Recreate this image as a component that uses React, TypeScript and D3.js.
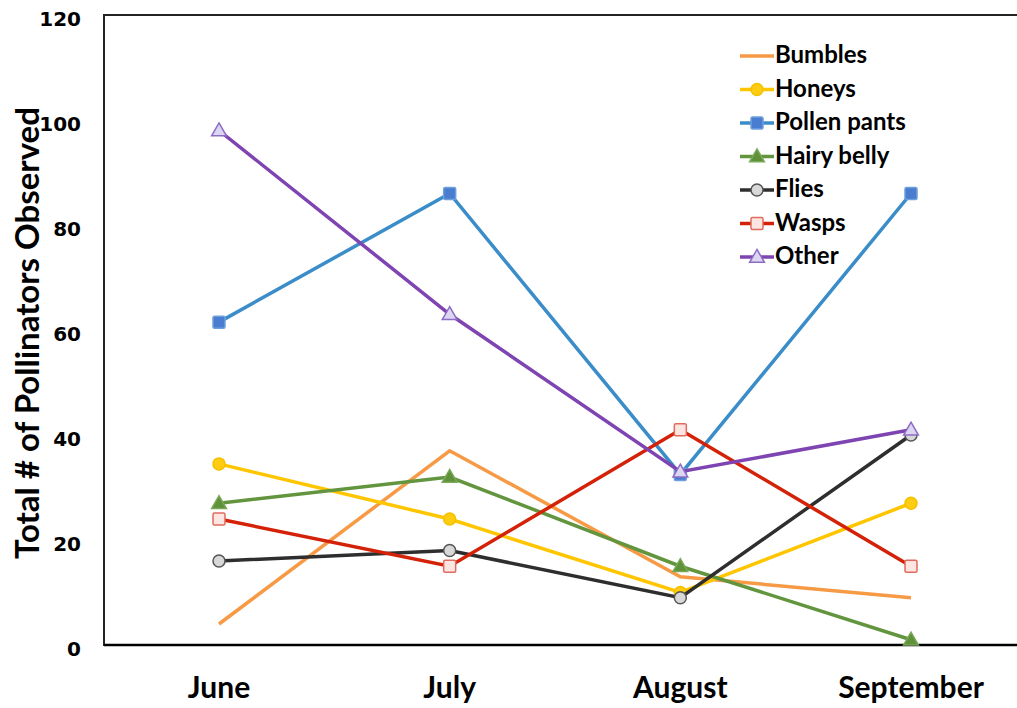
import React from "react";
import * as d3 from "d3";

const months = ["June", "July", "August", "September"];
const bumbles = [4, 37, 13, 9];
const honeys = [34.5, 24, 10, 27];
const pollenPants = [61.5, 86, 32.5, 86];
const hairyBelly = [27, 32, 15, 1];
const flies = [16, 18, 9, 40];
const wasps = [24, 15, 41, 15];
const other = [98, 63, 33, 41];
const yTicks = [0, 20, 40, 60, 80, 100, 120];

type Marker = "none" | "circle" | "square" | "triangle";
interface Series {
  name: string;
  values: number[];
  line: string;
  marker: Marker;
  fill: string;
  stroke: string;
}

const series: Series[] = [
  { name: "Bumbles", values: bumbles, line: "#F79A46", marker: "none", fill: "none", stroke: "none" },
  { name: "Honeys", values: honeys, line: "#FFC600", marker: "circle", fill: "#FFCC11", stroke: "#F2C200" },
  { name: "Pollen pants", values: pollenPants, line: "#3A8DC8", marker: "square", fill: "#4A7CD0", stroke: "#6EA0DC" },
  { name: "Hairy belly", values: hairyBelly, line: "#62953E", marker: "triangle", fill: "#5E9138", stroke: "#7AA85A" },
  { name: "Flies", values: flies, line: "#2E2E2E", marker: "circle", fill: "#D8D8D8", stroke: "#555555" },
  { name: "Wasps", values: wasps, line: "#D42208", marker: "square", fill: "#FDE6E2", stroke: "#E06A5E" },
  { name: "Other", values: other, line: "#7E44B2", marker: "triangle", fill: "#DCD6F2", stroke: "#8C6CC4" },
];

const W = 1017;
const H = 708;
const plotLeft = 104;
const plotTop = 15;
const plotBottom = 645;

const x = d3.scalePoint<string>().domain(months).range([219, 911]);
const y = d3.scaleLinear().domain([0, 120]).range([plotBottom, plotTop]);

function MarkerShape({ kind, cx, cy, fill, stroke }: { kind: Marker; cx: number; cy: number; fill: string; stroke: string }) {
  if (kind === "circle") {
    return <circle cx={cx} cy={cy} r={6} fill={fill} stroke={stroke} strokeWidth={1.5} />;
  }
  if (kind === "square") {
    return <rect x={cx - 6} y={cy - 6} width={12} height={12} rx={1.5} fill={fill} stroke={stroke} strokeWidth={1.5} />;
  }
  if (kind === "triangle") {
    const p = d3.symbol().type(d3.symbolTriangle).size(95)();
    return <path d={p || ""} transform={`translate(${cx},${cy + 1})`} fill={fill} stroke={stroke} strokeWidth={1.5} />;
  }
  return null;
}

export default function App() {
  const line = d3
    .line<number>()
    .x((_, i) => x(months[i]) as number)
    .y((v) => y(v));

  const legendX = 740;
  const legendY0 = 56;
  const legendStep = 33.5;

  return (
    <svg width={W} height={H} style={{ position: "absolute", left: 0, top: 0, background: "#fff" }}>
      <rect x={0} y={0} width={W} height={H} fill="#fff" />
      {/* frame */}
      <line x1={plotLeft} y1={plotTop} x2={W + 5} y2={plotTop} stroke="#222" strokeWidth={2} />
      <line x1={plotLeft} y1={plotTop - 1} x2={plotLeft} y2={plotBottom + 1} stroke="#222" strokeWidth={2} />
      <line x1={plotLeft} y1={plotBottom} x2={W + 5} y2={plotBottom} stroke="#000" strokeWidth={2.5} />

      {/* y tick labels */}
      {yTicks.map((t) => (
        <text
          key={t}
          x={81}
          y={y(t) + 5}
          textAnchor="end"
          dominantBaseline="middle"
          fontFamily="'DejaVu Sans', sans-serif"
          fontWeight="bold"
          fontSize={20}
          fill="#000"
        >
          {t}
        </text>
      ))}

      {/* y title */}
      <text
        transform={`translate(31,${333}) rotate(-90)`}
        textAnchor="middle"
        dominantBaseline="middle"
        fontFamily="Lato, 'Open Sans', sans-serif"
        fontWeight="bold"
        fontSize={33}
        fill="#000"
      >
        Total # of Pollinators Observed
      </text>

      {/* x labels */}
      {months.map((m) => (
        <text
          key={m}
          x={x(m) as number}
          y={698}
          textAnchor="middle"
          fontFamily="Lato, 'Open Sans', sans-serif"
          fontWeight="bold"
          fontSize={30}
          fill="#000"
        >
          {m}
        </text>
      ))}

      {/* series */}
      {series.map((s) => (
        <g key={s.name}>
          <path d={line(s.values) || ""} fill="none" stroke={s.line} strokeWidth={3.5} strokeLinejoin="miter" />
          {s.values.map((v, i) => (
            <MarkerShape key={i} kind={s.marker} cx={x(months[i]) as number} cy={y(v)} fill={s.fill} stroke={s.stroke} />
          ))}
        </g>
      ))}

      {/* legend */}
      {series.map((s, i) => {
        const cy = legendY0 + i * legendStep;
        return (
          <g key={s.name}>
            <line x1={legendX} y1={cy} x2={legendX + 34} y2={cy} stroke={s.line} strokeWidth={3.5} />
            <MarkerShape kind={s.marker} cx={legendX + 17} cy={cy} fill={s.fill} stroke={s.stroke} />
            <text
              x={legendX + 35}
              y={cy + 1}
              dominantBaseline="middle"
              fontFamily="Lato, 'Open Sans', sans-serif"
              fontWeight="bold"
              fontSize={24}
              fill="#000"
            >
              {s.name}
            </text>
          </g>
        );
      })}
    </svg>
  );
}
